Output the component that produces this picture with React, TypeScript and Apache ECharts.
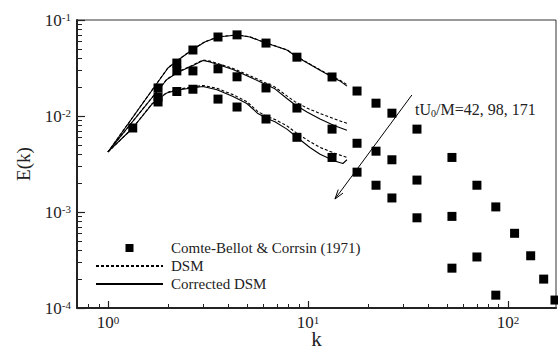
import React, { useEffect, useRef } from 'react';
import * as echarts from 'echarts';

const FONT = "'Liberation Serif', 'Times New Roman', serif";

// Comte-Bellot & Corrsin (1971) measurements, [k, E(k)]
const cbc42: number[][] = [
  [1.33, 0.0075], [1.78, 0.0196], [2.21, 0.0356], [2.66, 0.0487], [3.55, 0.0665],
  [4.42, 0.070], [6.17, 0.0575], [8.81, 0.041], [13.2, 0.0255], [17.6, 0.0182],
  [21.9, 0.0136], [26.3, 0.0107], [35.1, 0.0073], [52.5, 0.0037], [70, 0.0019],
  [87, 0.00113], [108, 0.0006], [130, 0.00035], [151, 0.0002], [172, 0.000121],
];
const cbc98: number[][] = [
  [1.78, 0.0158], [2.21, 0.0295], [2.66, 0.0295], [3.55, 0.031], [4.42, 0.0256],
  [6.17, 0.0196], [8.81, 0.0121], [13.2, 0.0073], [17.6, 0.0052], [21.9, 0.0043],
  [26.3, 0.0035], [35.1, 0.00215], [52.5, 0.0009], [70, 0.00034], [87, 0.000136],
];
const cbc171: number[][] = [
  [1.78, 0.014], [2.21, 0.018], [2.66, 0.019], [3.55, 0.015], [4.42, 0.0124],
  [6.17, 0.0093], [8.81, 0.006], [13.2, 0.0037], [17.6, 0.0026], [21.9, 0.0019],
  [26.3, 0.0014], [35.1, 0.00087], [52.5, 0.00026],
];

// Corrected DSM
const corr42: number[][] = [
  [1, 0.00422], [1.995, 0.0316], [2.21, 0.0374], [2.63, 0.0487], [3.05, 0.059],
  [3.55, 0.0665], [4.42, 0.0698], [5.13, 0.0665], [6.17, 0.0575], [7.85, 0.0487],
  [8.81, 0.0412], [11.5, 0.030], [13.2, 0.0255], [14.45, 0.0232], [15.67, 0.0205],
];
const corr98: number[][] = [
  [1, 0.00422], [1.97, 0.024], [2.24, 0.0285], [2.63, 0.0332], [2.985, 0.0378],
  [3.24, 0.0366], [4.22, 0.0305], [5.75, 0.0228], [6.84, 0.0192], [7.85, 0.0152],
  [8.61, 0.0131], [9.89, 0.0110], [11.5, 0.0093], [13.6, 0.0079], [15.67, 0.0071],
];
const corr171: number[][] = [
  [1, 0.00422], [1.33, 0.0075], [1.66, 0.0133], [1.97, 0.0174], [2.24, 0.0187],
  [2.63, 0.0196], [2.985, 0.0203], [3.51, 0.0188], [4.22, 0.016], [4.95, 0.0135],
  [5.62, 0.0106], [6.24, 0.0094], [6.84, 0.0087], [7.85, 0.0073], [8.81, 0.006],
  [10.23, 0.0047], [11.5, 0.004], [13.6, 0.0034], [14.96, 0.0032], [15.67, 0.0035],
];

// DSM
const dsm42: number[][] = [
  [1, 0.00422], [1.995, 0.0318], [2.21, 0.0376], [2.63, 0.049], [3.05, 0.0594],
  [3.55, 0.0668], [4.42, 0.0701], [5.13, 0.0668], [6.17, 0.0578], [7.85, 0.049],
  [8.81, 0.0415], [11.5, 0.0303], [13.2, 0.0258], [14.45, 0.0236], [15.67, 0.0212],
];
const dsm98: number[][] = [
  [1, 0.00422], [1.97, 0.0242], [2.24, 0.0288], [2.63, 0.0336], [2.985, 0.0384],
  [3.24, 0.0373], [4.22, 0.0313], [5.75, 0.0236], [6.84, 0.02], [7.85, 0.0162],
  [8.61, 0.0141], [9.89, 0.0121], [11.5, 0.0106], [13.6, 0.0093], [15.67, 0.0084],
];
const dsm171: number[][] = [
  [1, 0.00422], [1.33, 0.0075], [1.66, 0.0134], [1.97, 0.0176], [2.24, 0.019],
  [2.63, 0.02], [2.985, 0.0208], [3.51, 0.0194], [4.22, 0.0167], [4.95, 0.0141],
  [5.62, 0.0111], [6.24, 0.0099], [6.84, 0.0092], [7.85, 0.0079], [8.81, 0.0066],
  [10.23, 0.0054], [11.5, 0.0047], [13.6, 0.0041], [15.67, 0.0037],
];

// annotation (data coordinates)
const arrowFrom = [33.1, 0.01655];
const arrowTo = [13.65, 0.001365];
const annotationAt = [34.3, 0.0116];

const legendNames = ['Comte-Bellot & Corrsin (1971)', 'DSM', 'Corrected DSM'];

const xRange = [0.7, 174];
const yRange = [1e-4, 1e-1];
const minorMultipliers = [2, 3, 4, 5, 6, 7, 8, 9];
const xDecades = [0.1, 1, 10, 100];
const yDecades = [1e-4, 1e-3, 1e-2];

export default function App() {
  const ref = useRef<HTMLDivElement>(null);
  useEffect(() => {
    document.body.style.margin = '0';
    if (!ref.current) return;
    const chart = echarts.init(ref.current, null, { renderer: 'svg' });

    const xMinor: number[] = [];
    xDecades.forEach((d) => minorMultipliers.forEach((m) => {
      const v = Math.log10(d * m);
      if (v > Math.log10(xRange[0]) - 1e-9 && v < Math.log10(xRange[1])) xMinor.push(v);
    }));
    const yMinor: number[] = [];
    yDecades.forEach((d) => minorMultipliers.forEach((m) => yMinor.push(Math.log10(d * m))));

    const isPow10 = (v: number) => Math.abs(Math.log10(v) - Math.round(Math.log10(v))) < 1e-6;
    const powLabel = (v: number) => (isPow10(v) ? `{b|10}{s|${Math.round(Math.log10(v))}}` : '');
    const labelRich = {
      b: { fontFamily: FONT, fontSize: 17, lineHeight: 17, color: '#222' },
      s: { fontFamily: FONT, fontSize: 11, lineHeight: 11, color: '#222', verticalAlign: 'top' as const },
    };

    const scatter = (data: number[][]) => ({
      type: 'scatter', name: legendNames[0], data, symbol: 'rect', symbolSize: 9,
      itemStyle: { color: '#000', opacity: 1 }, z: 3,
    });
    const line = (name: string, data: number[][], dashed: boolean) => ({
      type: 'line', name, data, symbol: 'none', showSymbol: false,
      lineStyle: { color: '#000', width: 1.1, type: dashed ? [3, 2] : 'solid' },
      itemStyle: { color: '#000' }, z: 2,
    });

    chart.setOption({
      animation: false,
      grid: { left: 77, right: 2, top: 20, bottom: 41, show: true, borderColor: '#333', borderWidth: 1, outerBoundsMode: 'none' },
      legend: {
        data: [
          { name: legendNames[0], icon: 'path://M0,0L10,0L10,10L0,10Z', itemStyle: { color: '#000', opacity: 1 } },
          { name: legendNames[1], itemStyle: { opacity: 0 } },
          { name: legendNames[2], itemStyle: { opacity: 0 } },
        ],
        orient: 'vertical', left: 95, top: 240, padding: 0,
        itemWidth: 67, itemHeight: 8, itemGap: 2, symbolKeepAspect: true,
        textStyle: { fontFamily: FONT, fontSize: 15, lineHeight: 16, color: '#222', padding: [0, 0, 0, 3] },
        selectedMode: false,
      },
      xAxis: [
        {
          type: 'log', logBase: 10, min: xRange[0], max: xRange[1],
          name: 'k', nameLocation: 'middle', nameGap: 20, nameMoveOverlap: false,
          nameTextStyle: { fontFamily: FONT, fontSize: 21, color: '#222' },
          axisLine: { onZero: false, lineStyle: { color: '#222', width: 2 } },
          axisTick: { inside: true, length: 7, lineStyle: { color: '#222', width: 1.2 } },
          axisLabel: { formatter: powLabel, rich: labelRich, margin: 6, showMinLabel: false, showMaxLabel: false },
          splitLine: { show: false }, minorTick: { show: false },
        },
        {
          type: 'value', position: 'bottom', min: Math.log10(xRange[0]), max: Math.log10(xRange[1]),
          axisLine: { show: false, onZero: false },
          axisTick: { inside: true, length: 4, customValues: xMinor, lineStyle: { color: '#222', width: 1 } },
          axisLabel: { show: false }, splitLine: { show: false },
        },
      ],
      yAxis: [
        {
          type: 'log', logBase: 10, min: yRange[0], max: yRange[1],
          name: 'E(k)', nameLocation: 'middle', nameGap: 44, nameMoveOverlap: false,
          nameTextStyle: { fontFamily: FONT, fontSize: 19, color: '#222' },
          axisLine: { onZero: false, lineStyle: { color: '#222', width: 2 } },
          axisTick: { inside: true, length: 8, lineStyle: { color: '#222', width: 1.2 } },
          axisLabel: { formatter: powLabel, rich: labelRich, margin: 6 },
          splitLine: { show: false }, minorTick: { show: false },
        },
        {
          type: 'value', position: 'left', min: -4, max: -1,
          axisLine: { show: false, onZero: false },
          axisTick: { inside: true, length: 5, customValues: yMinor, lineStyle: { color: '#222', width: 1 } },
          axisLabel: { show: false }, splitLine: { show: false },
        },
      ],
      series: [
        scatter(cbc42), scatter(cbc98), scatter(cbc171),
        line(legendNames[1], dsm42, true), line(legendNames[1], dsm98, true), line(legendNames[1], dsm171, true),
        line(legendNames[2], corr42, false), line(legendNames[2], corr98, false), line(legendNames[2], corr171, false),
        {
          type: 'custom', name: 'arrow', silent: true, z: 4,
          data: [[arrowFrom[0], arrowFrom[1], arrowTo[0], arrowTo[1]]],
          encode: { x: [0, 2], y: [1, 3] },
          renderItem: (_p: any, api: any) => {
            const p1 = api.coord([api.value(0), api.value(1)]);
            const p2 = api.coord([api.value(2), api.value(3)]);
            const ang = Math.atan2(p2[1] - p1[1], p2[0] - p1[0]);
            const L = 10, a = 0.3;
            const h1 = [p2[0] - L * Math.cos(ang - a), p2[1] - L * Math.sin(ang - a)];
            const h2 = [p2[0] - L * Math.cos(ang + a), p2[1] - L * Math.sin(ang + a)];
            return {
              type: 'group',
              children: [
                { type: 'line', shape: { x1: p1[0], y1: p1[1], x2: p2[0], y2: p2[1] }, style: { stroke: '#000', lineWidth: 1 } },
                { type: 'polyline', shape: { points: [h1, p2, h2] }, style: { stroke: '#000', fill: null, lineWidth: 1 } },
              ],
            };
          },
        },
        {
          type: 'custom', name: 'label', silent: true, z: 4,
          data: [annotationAt],
          renderItem: (_p: any, api: any) => {
            const p = api.coord([api.value(0), api.value(1)]);
            return {
              type: 'text', x: p[0], y: p[1],
              style: {
                text: '{a|tU}{b|0}{a|/M=42, 98, 171}',
                align: 'left', verticalAlign: 'middle',
                rich: {
                  a: { fontFamily: FONT, fontSize: 16, lineHeight: 18, fill: '#222', verticalAlign: 'middle' },
                  b: { fontFamily: FONT, fontSize: 10, lineHeight: 10, fill: '#222', verticalAlign: 'bottom' },
                },
              },
            };
          },
        },
      ],
    });
    return () => chart.dispose();
  }, []);
  return <div ref={ref} style={{ width: 558, height: 349 }} />;
}
